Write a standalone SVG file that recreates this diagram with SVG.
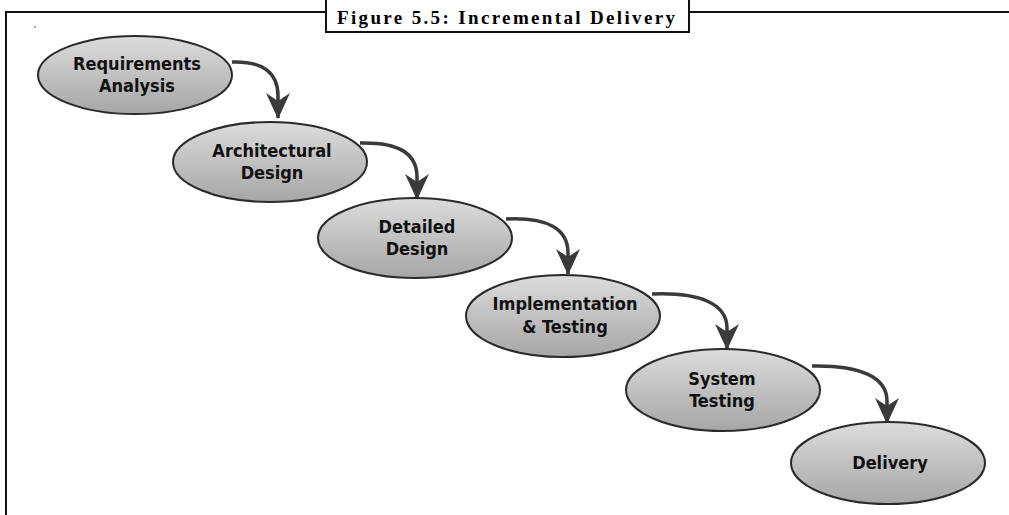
<svg xmlns="http://www.w3.org/2000/svg" width="1009" height="515" viewBox="0 0 1009 515">
<defs>
<linearGradient id="g" x1="0" y1="0" x2="0" y2="1">
<stop offset="0" stop-color="#dcdcdc"/>
<stop offset="1" stop-color="#a6a6a6"/>
</linearGradient>
<marker id="ah" viewBox="0 0 26 26" refX="25" refY="13" markerWidth="26" markerHeight="26" markerUnits="userSpaceOnUse" orient="auto">
<path d="M0,1 L26,13 L0,25 L8,13 Z" fill="#3a3a3a"/>
</marker>
<style>
.n ellipse{fill:url(#g);stroke:#2a2a2a;stroke-width:2}
.n text{font-family:"DejaVu Sans Condensed","DejaVu Sans",sans-serif;font-weight:bold;font-size:18px;fill:#111;text-anchor:middle}
.c path{fill:none;stroke:#3a3a3a;stroke-width:3.5}
</style>
</defs>
<rect width="1009" height="515" fill="#fff"/>
<g id="frame">
<path d="M6,515 L6,12 L326,12 M689,12 L1009,12" fill="none" stroke="#111" stroke-width="2"/>
<rect x="326" y="-2" width="363" height="34" fill="#fff" stroke="#111" stroke-width="2"/>
<text x="506" y="24" font-family="Liberation Serif,serif" font-weight="bold" font-size="19" text-anchor="middle" textLength="338" lengthAdjust="spacing">Figure 5.5: Incremental Delivery</text>
<circle cx="35" cy="27" r="0.8" fill="#444"/>
</g>
<g class="c" id="connectors">
<path d="M232,62 C262,61 278,72 278,96 L278,118" marker-end="url(#ah)"/>
<path d="M360,143 C398,142 417,153 417,177 L417,199" marker-end="url(#ah)"/>
<path d="M506,219 C548,217 568,229 568,253 L568,274" marker-end="url(#ah)"/>
<path d="M652,294 C700,292 727,304 727,328 L727,349" marker-end="url(#ah)"/>
<path d="M812,366 C860,365 887,377 887,401 L887,423" marker-end="url(#ah)"/>
</g>
<g class="n" id="n1"><ellipse cx="135" cy="75" rx="97" ry="39"/><text x="137" y="70">Requirements</text><text x="137" y="92">Analysis</text></g>
<g class="n" id="n2"><ellipse cx="270" cy="162" rx="97" ry="40"/><text x="272" y="157">Architectural</text><text x="272" y="179">Design</text></g>
<g class="n" id="n3"><ellipse cx="415" cy="238" rx="97" ry="40"/><text x="417" y="233">Detailed</text><text x="417" y="255">Design</text></g>
<g class="n" id="n4"><ellipse cx="563" cy="316" rx="97" ry="41"/><text x="565" y="310">Implementation</text><text x="565" y="333">&amp; Testing</text></g>
<g class="n" id="n5"><ellipse cx="723" cy="390" rx="97" ry="41"/><text x="722" y="385">System</text><text x="722" y="407">Testing</text></g>
<g class="n" id="n6"><ellipse cx="888" cy="463" rx="97" ry="41"/><text x="890" y="469">Delivery</text></g>
</svg>
